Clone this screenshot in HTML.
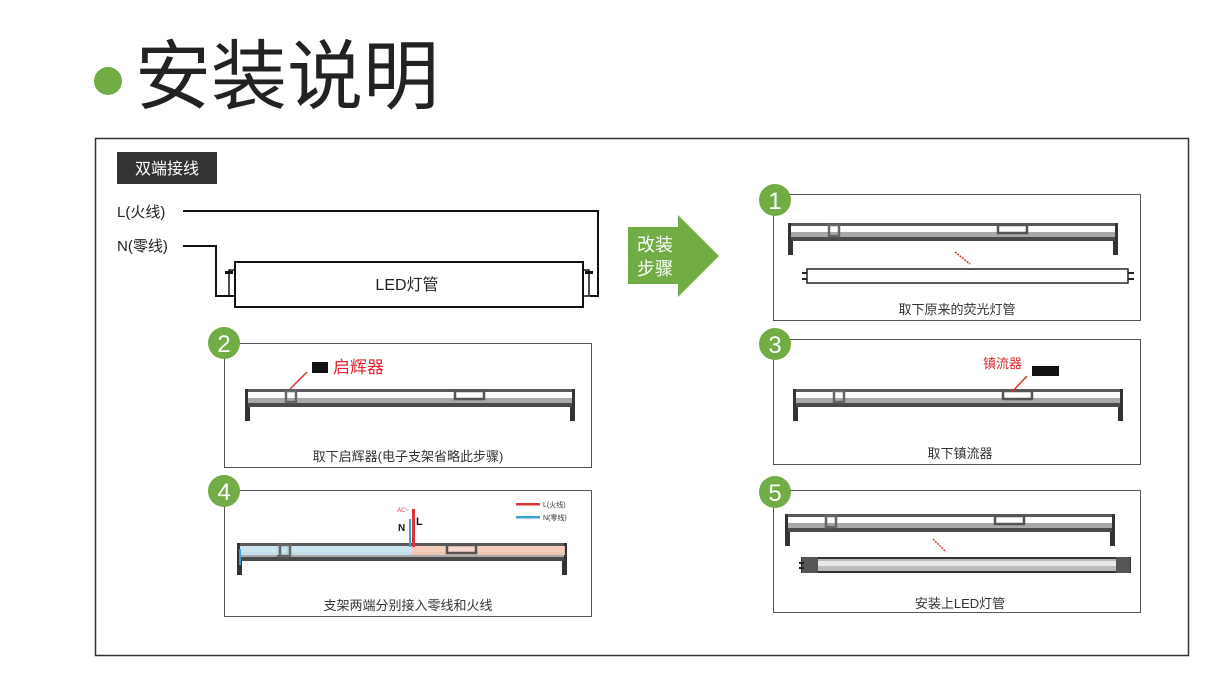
<!DOCTYPE html>
<html><head><meta charset="utf-8"><style>
html,body{margin:0;padding:0;background:#fff;}
svg{display:block;}
text{font-family:"Liberation Sans","Noto Sans CJK SC",sans-serif;}
</style></head><body>
<svg width="1223" height="698" viewBox="0 0 1223 698" xmlns="http://www.w3.org/2000/svg">
<defs>
<g id="fx">
 <rect x="0" y="0" width="330" height="18" fill="#fff"/>
 <rect x="0" y="0" width="330" height="3" fill="#5a5a5a"/>
 <rect x="0" y="9" width="330" height="5" fill="#a8a8a8"/>
 <rect x="0" y="14" width="330" height="4" fill="#4a4a4a"/>
 <rect x="0" y="0" width="3" height="18" fill="#333"/>
 <rect x="327" y="0" width="3" height="18" fill="#333"/>
 <rect x="0" y="18" width="5" height="14" fill="#333"/>
 <rect x="325" y="18" width="5" height="14" fill="#333"/>
 <rect x="41" y="2" width="10" height="11" fill="none" stroke="#666" stroke-width="2.5"/>
 <rect x="210" y="2" width="29" height="8" fill="#fff" stroke="#555" stroke-width="2.5"/>
</g>
</defs>

<!-- title -->
<circle cx="108" cy="81" r="14" fill="#72ac44"/>
<text x="135" y="103" font-size="76" fill="#222">安装说明</text>

<!-- outer frame -->
<rect x="95.5" y="138.5" width="1093" height="517" fill="none" stroke="#333" stroke-width="1.5"/>

<!-- 双端接线 -->
<rect x="117" y="152" width="100" height="32" fill="#333"/>
<text x="167" y="174" font-size="16" fill="#fff" text-anchor="middle">双端接线</text>
<text x="117" y="217" font-size="15" fill="#222">L(火线)</text>
<text x="117" y="251" font-size="15" fill="#222">N(零线)</text>
<polyline points="183,211 598,211 598,296 590,296" fill="none" stroke="#111" stroke-width="2"/>
<polyline points="183,246 216,246 216,296 236,296" fill="none" stroke="#111" stroke-width="2"/>
<rect x="235" y="262" width="348" height="45" fill="#fff" stroke="#111" stroke-width="2"/>
<rect x="229" y="270" width="6" height="26" fill="none" stroke="#111" stroke-width="1.5"/>
<rect x="225" y="271" width="8" height="3" fill="#111"/>
<rect x="583" y="270" width="6" height="26" fill="none" stroke="#111" stroke-width="1.5"/>
<rect x="585" y="271" width="8" height="3" fill="#111"/>
<text x="407" y="290" font-size="16" fill="#222" text-anchor="middle">LED灯管</text>

<!-- arrow -->
<polygon points="628,227 678,227 678,215 719,256 678,297 678,284 628,284" fill="#72ac44"/>
<text x="655" y="251" font-size="18" fill="#fff" text-anchor="middle">改装</text>
<text x="655" y="275" font-size="18" fill="#fff" text-anchor="middle">步骤</text>

<!-- panel 2 -->
<rect x="224.5" y="343.5" width="367" height="124" fill="#fff" stroke="#555" stroke-width="1"/>
<use href="#fx" x="245" y="389"/>
<line x1="290" y1="389" x2="307" y2="372" stroke="#d33" stroke-width="1.5"/>
<rect x="312" y="362" width="16" height="11" fill="#111"/>
<text x="333" y="373" font-size="17" fill="#e0262e">启辉器</text>
<text x="408" y="461" font-size="13" fill="#333" text-anchor="middle">取下启辉器(电子支架省略此步骤)</text>
<circle cx="224" cy="343" r="16" fill="#72ac44"/>
<text x="224" y="352" font-size="24" fill="#fff" text-anchor="middle">2</text>

<!-- panel 4 -->
<rect x="224.5" y="490.5" width="367" height="126" fill="#fff" stroke="#555" stroke-width="1"/>
<use href="#fx" x="237" y="543"/>
<rect x="240" y="546" width="172" height="9" fill="#c7e3f0" opacity="0.9"/>
<rect x="412" y="546" width="153" height="9" fill="#f5c6b4" opacity="0.9"/>
<rect x="447" y="545" width="29" height="8" fill="#f7d6cc" stroke="#555" stroke-width="2.5"/>
<rect x="280" y="545" width="10" height="11" fill="none" stroke="#666" stroke-width="2.5"/>
<rect x="239" y="549" width="2" height="16" fill="#3ea0cf"/>
<rect x="409" y="519" width="2" height="28" fill="#3ea0cf"/>
<rect x="412" y="509" width="3" height="38" fill="#d33"/>
<text x="397" y="512" font-size="6" fill="#d33" font-style="italic">AC~</text>
<text x="398" y="531" font-size="10" font-weight="bold" fill="#111">N</text>
<text x="416" y="525" font-size="11" font-weight="bold" fill="#111">L</text>
<rect x="516" y="503" width="24" height="2.5" fill="#d33"/>
<rect x="516" y="516" width="24" height="2.5" fill="#3ea0cf"/>
<text x="543" y="507" font-size="7" fill="#333">L(火线)</text>
<text x="543" y="520" font-size="7" fill="#333">N(零线)</text>
<text x="408" y="610" font-size="13" fill="#333" text-anchor="middle">支架两端分别接入零线和火线</text>
<circle cx="224" cy="491" r="16" fill="#72ac44"/>
<text x="224" y="500" font-size="24" fill="#fff" text-anchor="middle">4</text>

<!-- panel 1 -->
<rect x="773.5" y="194.5" width="367" height="126" fill="#fff" stroke="#555" stroke-width="1"/>
<use href="#fx" x="788" y="223"/>
<line x1="955" y1="252" x2="970" y2="264" stroke="#d33" stroke-width="1.5" stroke-dasharray="2,1"/>
<rect x="807" y="269" width="321" height="14" fill="#fff" stroke="#222" stroke-width="1.5"/>
<rect x="802" y="272" width="5" height="2" fill="#222"/><rect x="802" y="278" width="5" height="2" fill="#222"/>
<rect x="1128" y="272" width="6" height="2" fill="#222"/><rect x="1128" y="278" width="6" height="2" fill="#222"/>
<text x="957" y="314" font-size="13" fill="#333" text-anchor="middle">取下原来的荧光灯管</text>
<circle cx="775" cy="200" r="16" fill="#72ac44"/>
<text x="775" y="209" font-size="24" fill="#fff" text-anchor="middle">1</text>

<!-- panel 3 -->
<rect x="773.5" y="339.5" width="367" height="125" fill="#fff" stroke="#555" stroke-width="1"/>
<use href="#fx" x="793" y="389"/>
<line x1="1012" y1="392" x2="1027" y2="376" stroke="#d33" stroke-width="1.5"/>
<rect x="1032" y="366" width="27" height="10" fill="#111"/>
<text x="983" y="368" font-size="13" fill="#e0262e">镇流器</text>
<text x="960" y="458" font-size="13" fill="#333" text-anchor="middle">取下镇流器</text>
<circle cx="775" cy="344" r="16" fill="#72ac44"/>
<text x="775" y="353" font-size="24" fill="#fff" text-anchor="middle">3</text>

<!-- panel 5 -->
<rect x="773.5" y="490.5" width="367" height="122" fill="#fff" stroke="#555" stroke-width="1"/>
<use href="#fx" x="785" y="514"/>
<line x1="933" y1="539" x2="946" y2="552" stroke="#d33" stroke-width="1.5" stroke-dasharray="2,1"/>
<rect x="802" y="558" width="328" height="14" fill="#bbb" stroke="#333" stroke-width="2"/>
<rect x="806" y="561" width="312" height="5" fill="#e8e8e8"/>
<rect x="802" y="557" width="16" height="16" fill="#555"/>
<rect x="1116" y="557" width="14" height="16" fill="#555"/>
<rect x="799" y="562" width="5" height="2" fill="#222"/><rect x="799" y="567" width="5" height="2" fill="#222"/>
<text x="960" y="608" font-size="13" fill="#333" text-anchor="middle">安装上LED灯管</text>
<circle cx="775" cy="492" r="16" fill="#72ac44"/>
<text x="775" y="501" font-size="24" fill="#fff" text-anchor="middle">5</text>
</svg>
</body></html>
